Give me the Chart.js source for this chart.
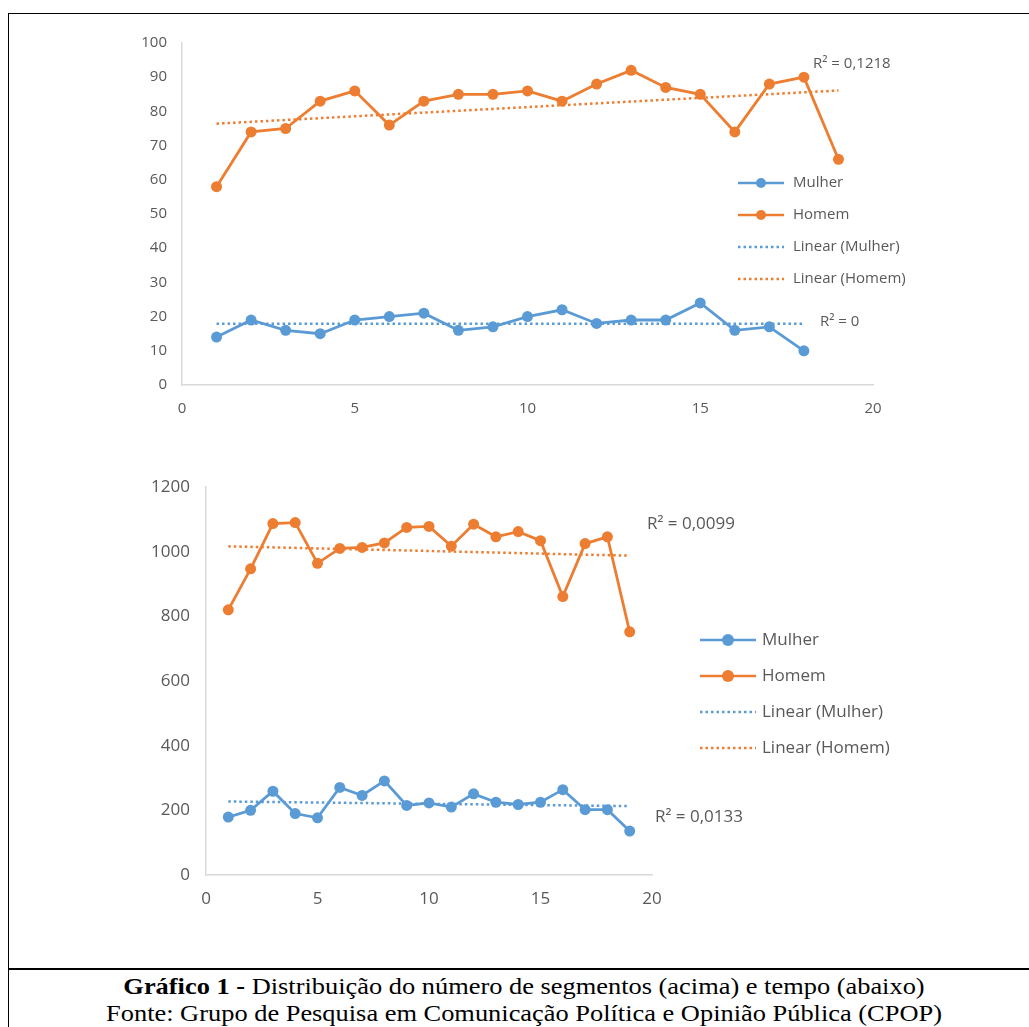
<!DOCTYPE html>
<html lang="pt">
<head>
  <meta charset="UTF-8">
  <script src="https://cdn.jsdelivr.net/npm/chart.js"></script>
  <title>Gráfico 1</title>
  <style>
    html, body { margin: 0; padding: 0; background: #fff; overflow: hidden; }
    body { width: 1029px; height: 1027px; position: relative; }
    .moldura { position: absolute; left: 8px; top: 13px; width: 1100px; height: 956px;
      border: 1.5px solid #000; box-sizing: border-box; }
    .rodape { position: absolute; left: 8px; top: 969px; width: 1100px; height: 100px;
      border-left: 1.5px solid #000; border-top: 1.5px solid #000; box-sizing: border-box; }
    .legenda { position: absolute; left: 8px; top: 973px; width: 1032px; text-align: center;
      font-family: "Liberation Serif", "Times New Roman", serif; font-size: 24px; line-height: 27px; color: #000;
      transform: scaleX(1.1); transform-origin: 516px 0; white-space: nowrap; }
    #grafico1 { position: absolute; left: 0; top: 0; }
    #grafico2 { position: absolute; left: 0; top: 440px; }
  </style>
</head>
<body>
  <div class="moldura"></div>
  <div class="rodape"></div>
  <canvas id="grafico1" width="1029" height="440"></canvas>
  <canvas id="grafico2" width="1029" height="500"></canvas>
  <div class="legenda">
    <b>Gráfico 1 -</b> Distribuição do número de segmentos (acima) e tempo (abaixo)<br>
    Fonte: Grupo de Pesquisa em Comunicação Política e Opinião Pública (CPOP)
  </div>

<script>
  // numero de segmentos (acima)
  const segMulher = [14, 19, 16, 15, 19, 20, 21, 16, 17, 20, 22, 18, 19, 19, 24, 16, 17, 10];
  const segHomem = [58, 74, 75, 83, 86, 76, 83, 85, 85, 86, 83, 88, 92, 87, 85, 74, 88, 90, 66];
  const segR2 = ['R² = 0', 'R² = 0,1218'];

  // tempo (abaixo)
  const tempoMulher = [179, 200, 259, 190, 177, 271, 246, 291, 215, 223, 210, 251, 225, 218, 225, 264, 202, 202, 136];
  const tempoHomem = [820, 947, 1087, 1090, 964, 1010, 1013, 1027, 1075, 1078, 1017, 1085, 1046, 1062, 1034, 861, 1025, 1046, 752];
  const tempoR2 = ['R² = 0,0133', 'R² = 0,0099'];

  const nomesSeries = ['Mulher', 'Homem', 'Linear (Mulher)', 'Linear (Homem)'];

  const AZUL = '#5B9BD5';
  const LARANJA = '#ED7D31';
  const CINZA = '#595959';
  const FONTE = '"Open Sans", "Noto Sans", sans-serif';

  function paraPontos(valores) {
    return valores.map(function (v, i) { return { x: i + 1, y: v }; });
  }

  // reta de tendencia (minimos quadrados), como a "Linear" do Excel
  function tendencia(valores) {
    let n = valores.length, sx = 0, sy = 0, sxy = 0, sxx = 0;
    for (let i = 0; i < n; i++) {
      let x = i + 1;
      sx += x; sy += valores[i]; sxy += x * valores[i]; sxx += x * x;
    }
    let m = (n * sxy - sx * sy) / (n * sxx - sx * sx);
    let b = (sy - m * sx) / n;
    return [{ x: 1, y: m + b }, { x: n, y: m * n + b }];
  }

  // legenda e textos de R² desenhados no canvas
  const legendaPlugin = {
    id: 'legendaExcel',
    afterDraw(chart, args, opts) {
      const ctx = chart.ctx;
      ctx.save();
      ctx.font = opts.fontSize + 'px ' + FONTE;
      ctx.fillStyle = CINZA;
      ctx.textBaseline = 'middle';
      ctx.textAlign = 'left';
      const cores = [AZUL, LARANJA, AZUL, LARANJA];
      for (let i = 0; i < nomesSeries.length; i++) {
        let y = opts.y + i * opts.passo;
        ctx.strokeStyle = cores[i];
        ctx.lineWidth = 2.5;
        ctx.beginPath();
        if (i < 2) {
          ctx.setLineDash([]);
          ctx.moveTo(opts.x, y); ctx.lineTo(opts.x + opts.largura, y);
          ctx.stroke();
          ctx.fillStyle = cores[i];
          ctx.beginPath();
          ctx.arc(opts.x + opts.largura / 2, y, opts.raio, 0, Math.PI * 2);
          ctx.fill();
        } else {
          ctx.setLineDash([2.5, 3]);
          ctx.moveTo(opts.x, y); ctx.lineTo(opts.x + opts.largura, y);
          ctx.stroke();
        }
        ctx.setLineDash([]);
        ctx.fillStyle = CINZA;
        ctx.fillText(nomesSeries[i], opts.x + opts.largura + opts.gap, y);
      }
      for (const r of opts.r2) {
        ctx.fillText(r.texto, r.x, r.y);
      }
      ctx.restore();
    }
  };

  function montarGrafico(id, mulher, homem, yMax, yPasso, layout, legenda, fonteTicks) {
    const dados = {
      datasets: [
        { label: 'Linear (Mulher)', data: tendencia(mulher), borderColor: AZUL, borderWidth: 2.5,
          borderDash: [2.5, 3], pointRadius: 0, order: 0 },
        { label: 'Linear (Homem)', data: tendencia(homem), borderColor: LARANJA, borderWidth: 2.5,
          borderDash: [2.5, 3], pointRadius: 0, order: 0 },
        { label: 'Mulher', data: paraPontos(mulher), borderColor: AZUL, backgroundColor: AZUL,
          borderWidth: 2.8, pointRadius: 5.5, pointBorderWidth: 0, order: 1 },
        { label: 'Homem', data: paraPontos(homem), borderColor: LARANJA, backgroundColor: LARANJA,
          borderWidth: 2.8, pointRadius: 5.5, pointBorderWidth: 0, order: 1 }
      ]
    };

    const config = {
      type: 'line',
      data: dados,
      plugins: [legendaPlugin],
      options: {
        responsive: false,
        animation: false,
        layout: { padding: layout.padding },
        plugins: {
          legend: { display: false },
          tooltip: { enabled: false },
          legendaExcel: legenda
        },
        scales: {
          x: {
            type: 'linear', min: 0, max: 20,
            ticks: { stepSize: 5, color: CINZA, font: { family: FONTE, size: fonteTicks }, padding: layout.xPad,
              callback: function (v) { return String(v); } },
            grid: { display: false, drawTicks: false },
            border: { color: '#D9D9D9', width: 1.5 },
            afterFit: function (s) { s.height = layout.xAltura; }
          },
          y: {
            min: 0, max: yMax,
            ticks: { stepSize: yPasso, color: CINZA, font: { family: FONTE, size: fonteTicks }, padding: layout.yPad,
              callback: function (v) { return String(v); } },
            grid: { display: false, drawTicks: false },
            border: { color: '#D9D9D9', width: 1.5 },
            afterFit: function (s) { s.width = layout.yLargura; }
          }
        }
      }
    };

    return new Chart(document.getElementById(id), config);
  }

  montarGrafico('grafico1', segMulher, segHomem, 100, 10,
    { padding: { left: 0, top: 43, right: 156, bottom: 0 }, yLargura: 182, xAltura: 55, yPad: 15, xPad: 15 },
    { x: 738, y: 183, passo: 32, largura: 46, raio: 5, gap: 9, fontSize: 15,
      r2: [{ texto: segR2[0], x: 820, y: 322 }, { texto: segR2[1], x: 813, y: 64 }] },
    15);

  montarGrafico('grafico2', tempoMulher, tempoHomem, 1200, 200,
    { padding: { left: 0, top: 47, right: 377, bottom: 0 }, yLargura: 206, xAltura: 65, yPad: 16, xPad: 14 },
    { x: 700, y: 200, passo: 36, largura: 56, raio: 6, gap: 6, fontSize: 17,
      r2: [{ texto: tempoR2[0], x: 655, y: 377 }, { texto: tempoR2[1], x: 647, y: 84 }] },
    17);
</script>
</body>
</html>
